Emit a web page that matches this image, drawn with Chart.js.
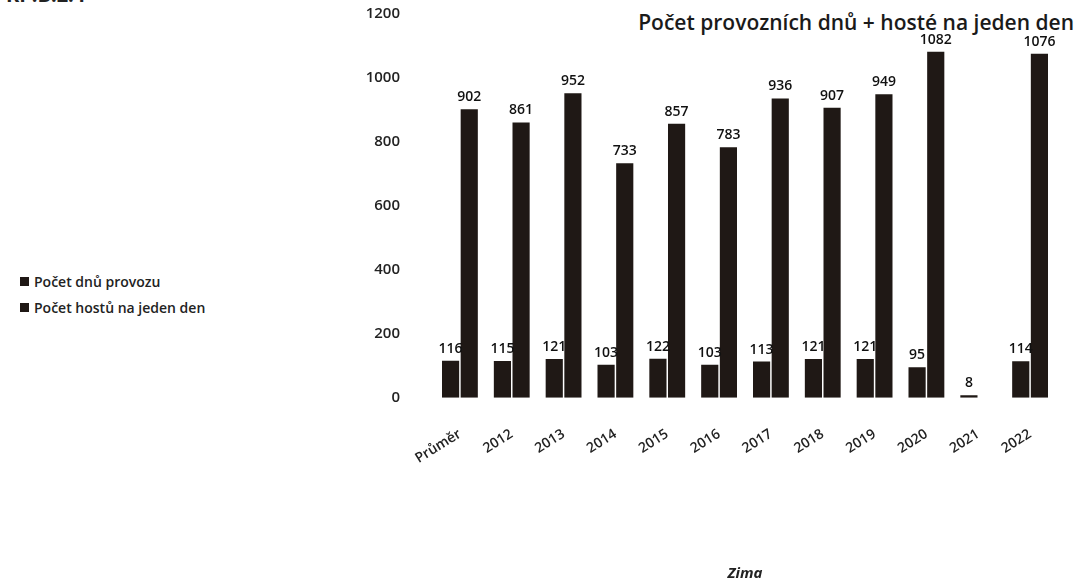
<!DOCTYPE html>
<html>
<head>
<meta charset="utf-8">
<script src="https://cdn.jsdelivr.net/npm/chart.js@4"></script>
<style>
  body { margin: 0; background: #fff; }
  #wrap { position: relative; width: 1080px; height: 587px; overflow: hidden; }
  #myChart { position: absolute; left: 0; top: 0; }
  #head { position: absolute; left: 6px; top: -19px; font: 700 20px "Open Sans", sans-serif; color: #222; }
  #title { position: absolute; right: 6px; top: 8px; font: 600 21px "Open Sans", sans-serif; color: #1a1a1a; }
  #legend { position: absolute; left: 20px; top: 268px; font: 600 14px "Open Sans", sans-serif; color: #222; }
  #legend div { height: 26px; display: flex; align-items: center; }
  #legend span { display: inline-block; width: 9px; height: 9px; margin-right: 5px; }
</style>
</head>
<body>
<div id="wrap">
  <div id="head">KP.B.2.4</div>
  <div id="title">Počet provozních dnů + hosté na jeden den</div>
  <div id="legend"></div>
  <canvas id="myChart" width="1080" height="587"></canvas>
</div>
<script>
const seasons = ["Průměr", "2012", "2013", "2014", "2015", "2016", "2017", "2018", "2019", "2020", "2021", "2022"];
const daysOpen = [116, 115, 121, 103, 122, 103, 113, 121, 121, 95, 8, 114];
const guestsPerDay = [902, 861, 952, 733, 857, 783, 936, 907, 949, 1082, null, 1076];
const yTicks = [0, 200, 400, 600, 800, 1000, 1200];

const barColor = "#1f1815";
const font = "'Open Sans', sans-serif";

const datasets = [
  { label: "Počet dnů provozu", data: daysOpen, backgroundColor: barColor },
  { label: "Počet hostů na jeden den", data: guestsPerDay, backgroundColor: barColor },
];

// legend built from dataset labels
const legendEl = document.getElementById("legend");
datasets.forEach((ds) => {
  const row = document.createElement("div");
  row.innerHTML = '<span style="background:' + ds.backgroundColor + '"></span>' + ds.label;
  legendEl.appendChild(row);
});

// value labels above each bar
const valueLabels = {
  id: "valueLabels",
  afterDatasetsDraw(chart) {
    const { ctx } = chart;
    ctx.save();
    ctx.font = "600 14px " + font;
    ctx.fillStyle = "#111";
    ctx.textAlign = "center";
    ctx.textBaseline = "bottom";
    chart.data.datasets.forEach((ds, i) => {
      chart.getDatasetMeta(i).data.forEach((bar, j) => {
        const v = ds.data[j];
        if (v == null) return;
        ctx.fillText(v, bar.x, bar.y - 5);
      });
    });
    ctx.restore();
  },
};

const ctx = document.getElementById("myChart").getContext("2d");
new Chart(ctx, {
  type: "bar",
  data: { labels: seasons, datasets },
  options: {
    responsive: false,
    animation: false,
    layout: { padding: { top: 14, right: 24, bottom: 4 } },
    datasets: { bar: { categoryPercentage: 0.72, barPercentage: 0.92 } },
    plugins: {
      legend: { display: false },
      tooltip: { enabled: false },
    },
    scales: {
      x: {
        grid: { display: false },
        border: { display: false },
        ticks: {
          minRotation: 32,
          maxRotation: 32,
          padding: 20,
          color: "#222",
          font: { family: font, size: 14, weight: "600" },
        },
        title: {
          display: true,
          text: "Zima",
          color: "#222",
          padding: { top: 78, bottom: 0 },
          font: { family: font, size: 15, weight: "700", style: "italic" },
        },
      },
      y: {
        min: 0,
        max: 1200,
        grid: { display: false },
        border: { display: false },
        afterFit(scale) {
          scale.width = 434;
          scale.paddingTop = 0;
        },
        afterBuildTicks(scale) { scale.ticks = yTicks.map((v) => ({ value: v })); },
        ticks: {
          padding: 26,
          color: "#222",
          font: { family: font, size: 15, weight: "600" },
          callback: (v) => String(v),
        },
      },
    },
  },
  plugins: [valueLabels],
});
</script>
</body>
</html>
